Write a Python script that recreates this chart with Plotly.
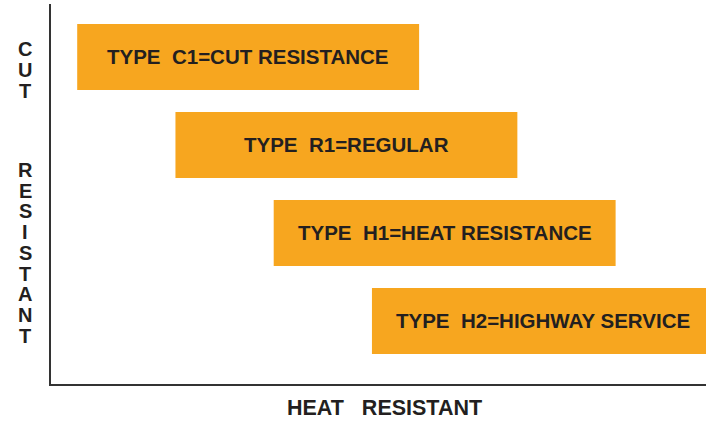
import plotly.graph_objects as go

# Data
types = ["TYPE  C1=CUT RESISTANCE", "TYPE  R1=REGULAR",
         "TYPE  H1=HEAT RESISTANCE", "TYPE  H2=HIGHWAY SERVICE"]
rows = [0, 1, 2, 3]
starts = [4, 19, 34, 49]
lengths = [52.2, 52.2, 52.2, 52.2]
y_title_words = ["CUT", "RESISTANT"]
x_title = "HEAT   RESISTANT"

BAR = "#F7A61F"
TXT = "#231F20"
FONT = "Liberation Sans, Arial, sans-serif"

fig = go.Figure()
fig.add_trace(go.Bar(
    y=rows, x=lengths, base=starts, orientation="h",
    marker=dict(color=BAR, line=dict(width=0)),
    width=0.75, hoverinfo="skip", showlegend=False,
))

for r, s, l, t in zip(rows, starts, lengths, types):
    fig.add_annotation(x=s + l / 2, y=r, xref="x", yref="y", text="<b>" + t + "</b>",
                       showarrow=False, font=dict(family=FONT, size=20.5, color=TXT),
                       xanchor="center", yanchor="middle")

# vertical y-axis title, one letter per line (word start offset, letter step in px)
word_layout = [(45, 21.0), (166, 20.7)]
for word, (top, step) in zip(y_title_words, word_layout):
    for i, ch in enumerate(word):
        fig.add_annotation(x=0, y=1, xref="paper", yref="paper", text="<b>" + ch + "</b>",
                           showarrow=False, font=dict(family=FONT, size=20, color=TXT),
                           xanchor="center", yanchor="middle",
                           xshift=-26, yshift=-(top + i * step))

fig.add_annotation(x=0.5, y=0, xref="paper", yref="paper", text="<b>" + x_title + "</b>",
                   showarrow=False, font=dict(family=FONT, size=21.5, color=TXT),
                   xanchor="center", yanchor="middle", xshift=6, yshift=-24)

fig.update_layout(
    width=706, height=425,
    margin=dict(l=51, r=0, t=4, b=41),
    paper_bgcolor="white", plot_bgcolor="white",
    xaxis=dict(range=[0, 100], showline=True, linecolor="#333333", linewidth=2,
               showgrid=False, zeroline=False, showticklabels=False, ticks=""),
    yaxis=dict(range=[3.716, -0.602], showline=True, linecolor="#333333", linewidth=2,
               showgrid=False, zeroline=False, showticklabels=False, ticks=""),
    bargap=0.25,
)

fig.write_html("out.html", config={"displayModeBar": False},
               post_script="document.body.style.margin='0';")
